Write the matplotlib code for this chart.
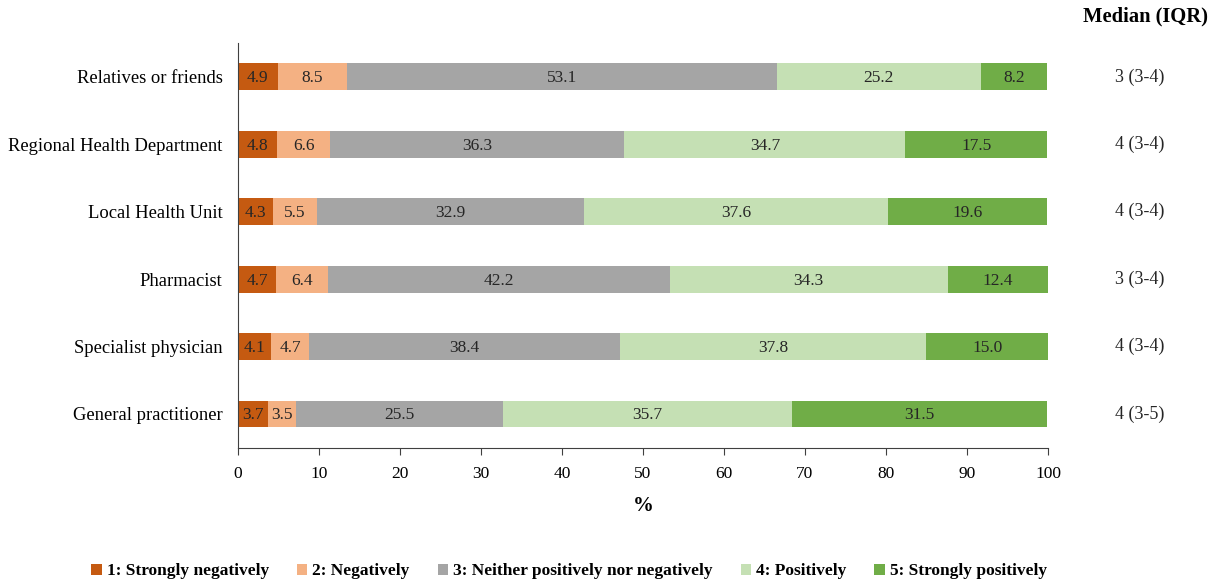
import matplotlib
matplotlib.use("Agg")
import matplotlib.pyplot as plt
from matplotlib.patches import Patch

plt.rcParams['font.family'] = ['Liberation Serif', 'DejaVu Serif']

sources = ["Relatives or friends", "Regional Health Department", "Local Health Unit",
           "Pharmacist", "Specialist physician", "General practitioner"]
levels = ["1: Strongly negatively", "2: Negatively",
          "3: Neither positively nor negatively", "4: Positively",
          "5: Strongly positively"]
strongly_negative = [4.9, 4.8, 4.3, 4.7, 4.1, 3.7]
negative = [8.5, 6.6, 5.5, 6.4, 4.7, 3.5]
neutral = [53.1, 36.3, 32.9, 42.2, 38.4, 25.5]
positive = [25.2, 34.7, 37.6, 34.3, 37.8, 35.7]
strongly_positive = [8.2, 17.5, 19.6, 12.4, 15.0, 31.5]
median_iqr = ["3 (3-4)", "4 (3-4)", "4 (3-4)", "3 (3-4)", "4 (3-4)", "4 (3-5)"]
x_ticks = [0, 10, 20, 30, 40, 50, 60, 70, 80, 90, 100]

colors = ["#C55A11", "#F4B183", "#A5A5A5", "#C5E0B4", "#70AD47"]
series = [strongly_negative, negative, neutral, positive, strongly_positive]

fig = plt.figure(figsize=(12.11, 5.84), dpi=100)
ax = fig.add_axes([0.1965, 0.2334, 0.6689, 0.6925])

ypos = list(range(len(sources)))
left = [0.0] * len(sources)
for vals, col in zip(series, colors):
    ax.barh(ypos, vals, left=left, height=0.4, color=col, edgecolor="none")
    for y, l, v in zip(ypos, left, vals):
        ax.text(l + v / 2, y + 0.02, f"{v:.1f}", ha="center", va="center",
                fontsize=12.5, color="#262626")
    left = [a + b for a, b in zip(left, vals)]

ax.set_ylim(len(sources) - 0.5, -0.5)
ax.set_xlim(0, 100)
ax.set_xticks(x_ticks)
ax.set_xticklabels([str(t) for t in x_ticks], fontsize=12.5)
ax.set_yticks(ypos)
ax.set_yticklabels(sources, fontsize=13.4)
ax.tick_params(axis="y", length=0, pad=11)
ax.tick_params(axis="x", length=5, direction="out", color="#404040", pad=8)
for s in ["top", "right"]:
    ax.spines[s].set_visible(False)
ax.spines["left"].set_color("#404040")
ax.spines["bottom"].set_color("#404040")
ax.set_xlabel("%", fontsize=15, fontweight="bold", labelpad=10)

# Median (IQR) column on the right
for y, m in zip(ypos, median_iqr):
    ax.text(1.1136, y, m, transform=ax.get_yaxis_transform(), ha="center",
            va="center", fontsize=13, color="#262626")
fig.text(0.9463, 0.972, "Median (IQR)", ha="center", va="center",
         fontsize=14.8, fontweight="bold")

handles = [Patch(facecolor=c, edgecolor="none") for c in colors]
fig.legend(handles, levels, loc="center", bbox_to_anchor=(0.470, 0.022),
           ncol=5, frameon=False, prop={"weight": "bold", "size": 12.5},
           handlelength=0.6, handleheight=0.6, handletextpad=0.3,
           columnspacing=1.6)

fig.savefig("out.png", dpi=100)
